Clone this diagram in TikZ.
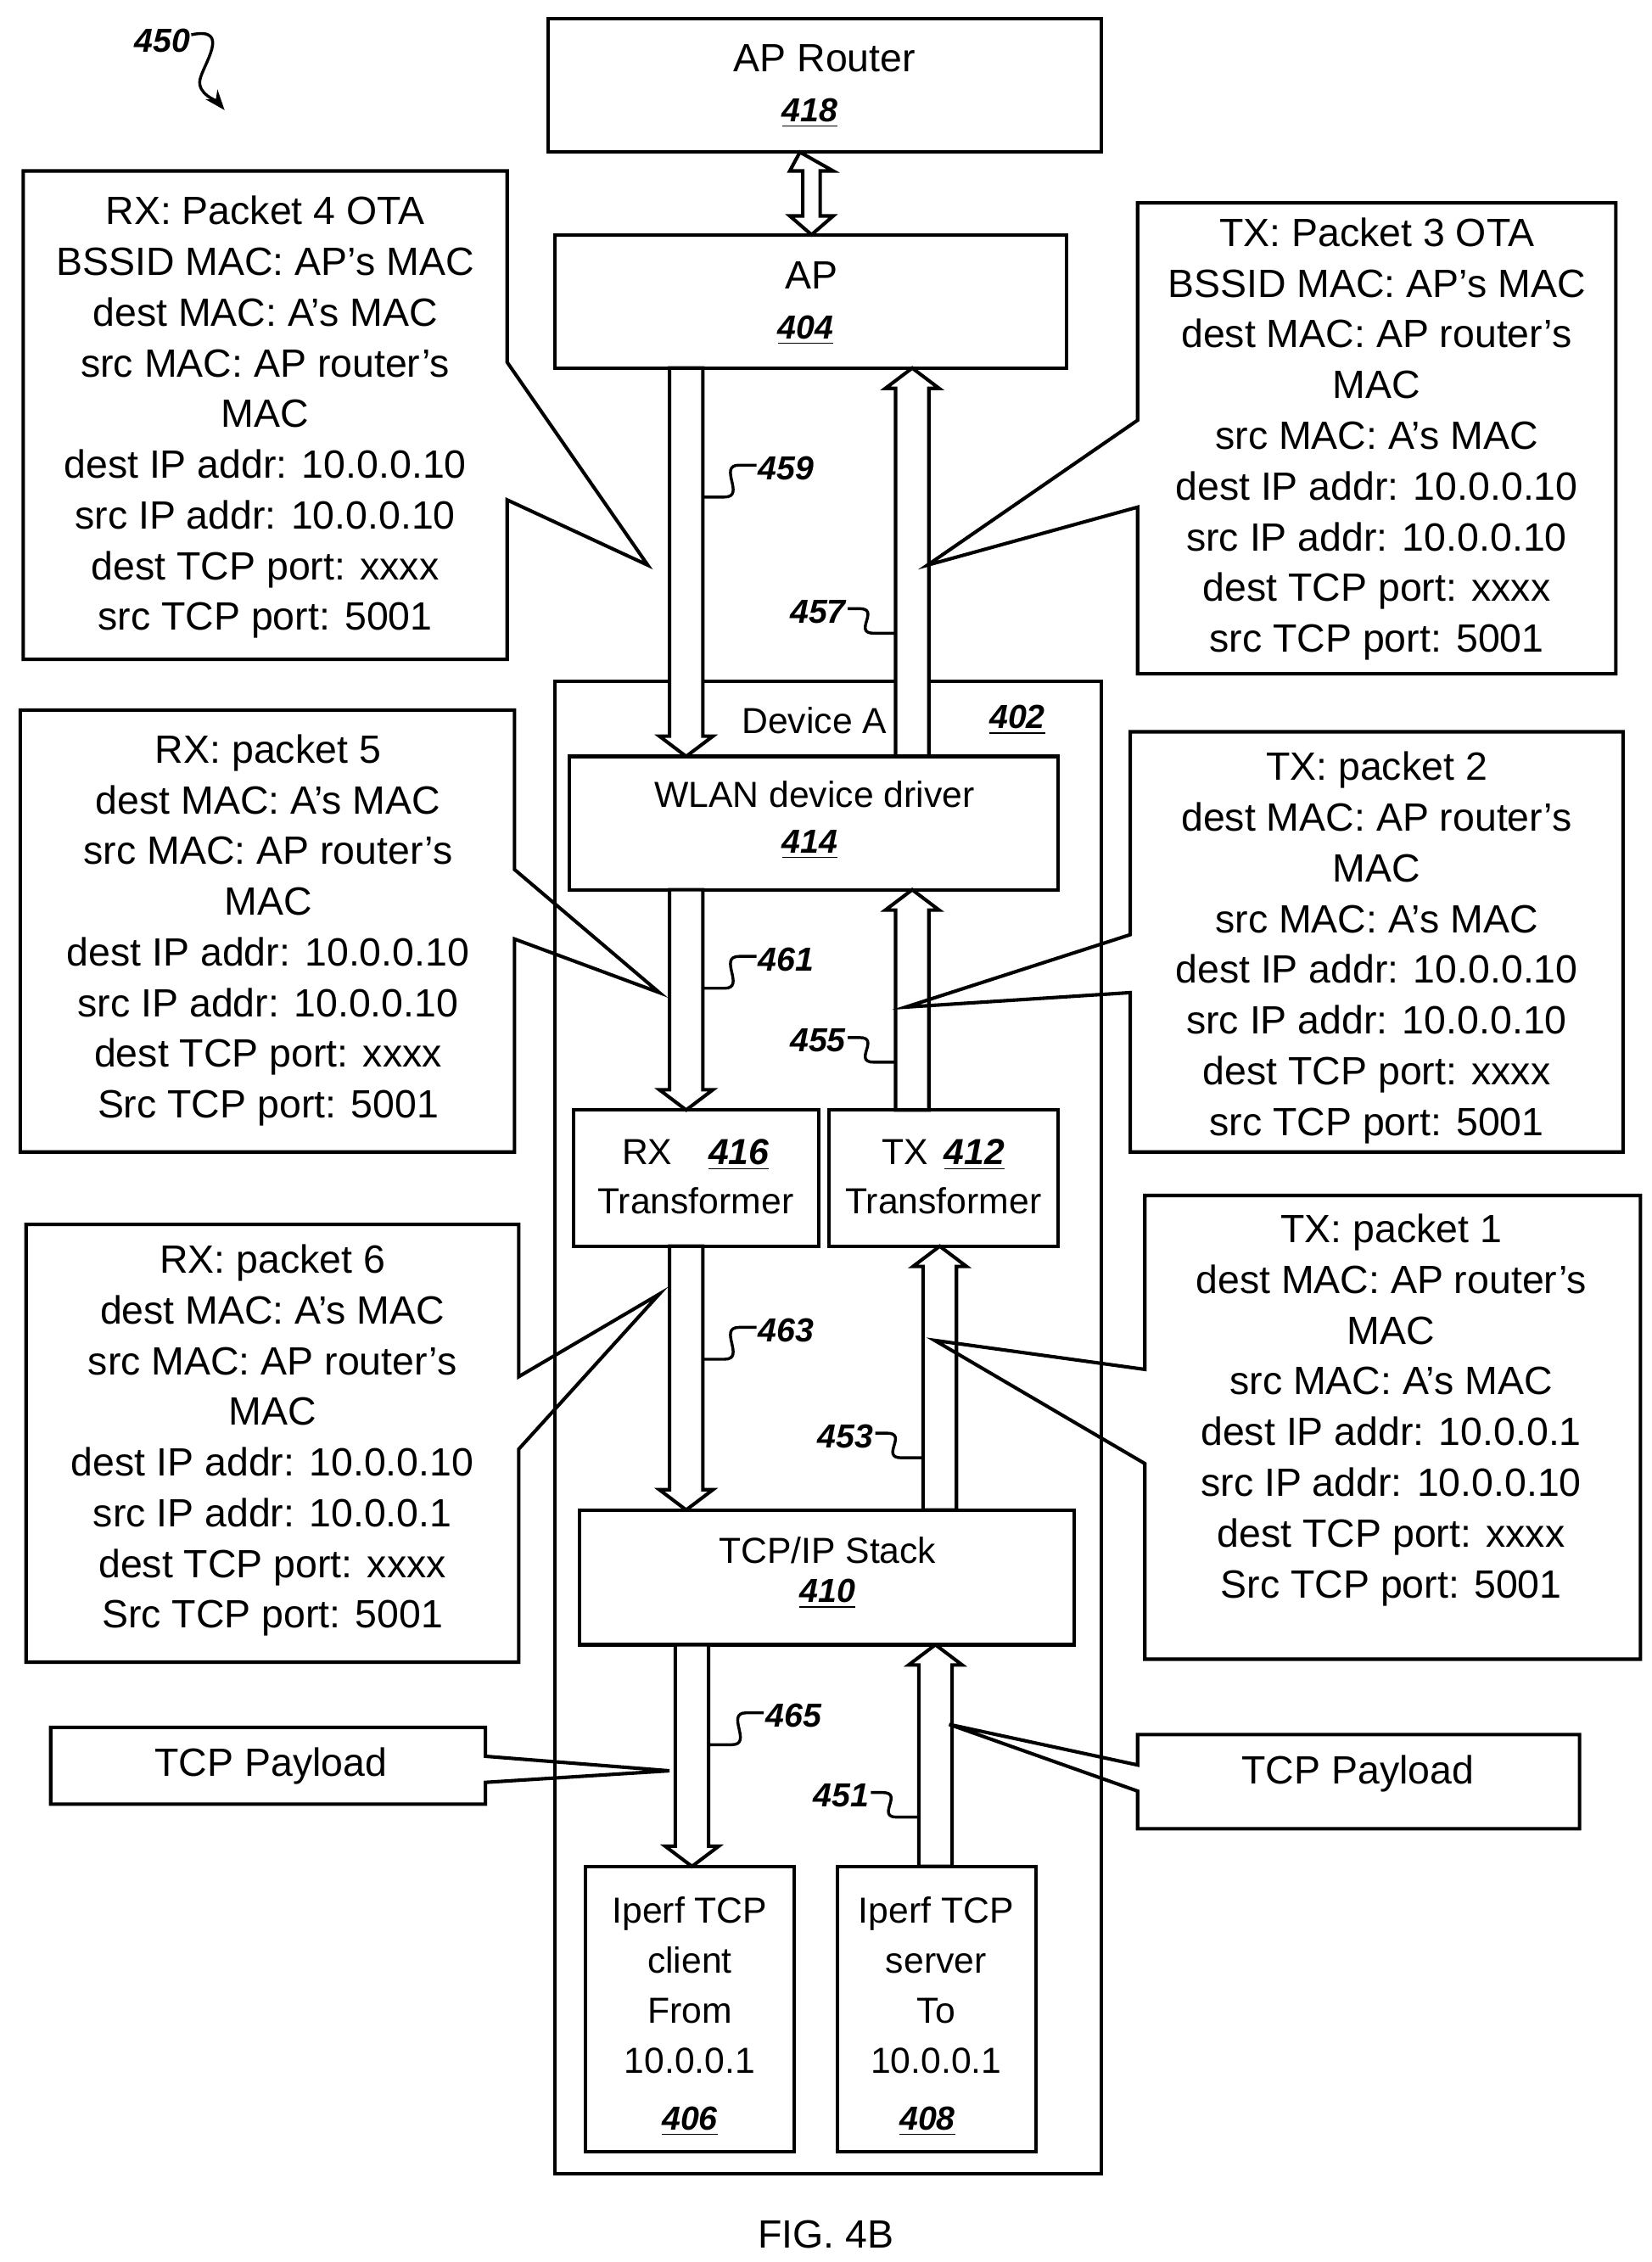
\documentclass[tikz,border=0pt]{standalone}
\usepackage{fontspec}
\setmainfont{Liberation Sans}
\usetikzlibrary{arrows.meta}
\newcommand\cbR[9]{% x1 y1 x2 y2 ya yb tx ty name
 \draw[line width=1.2pt] (#1,#2)--(#3,#2)--(#3,#5)--(#7,#8)--(#3,#6)--(#3,#4)--(#1,#4)--cycle;
 \coordinate (#9) at (#7,#8);}
\newcommand\cbL[9]{%
 \draw[line width=1.2pt] (#3,#2)--(#1,#2)--(#1,#5)--(#7,#8)--(#1,#6)--(#1,#4)--(#3,#4)--cycle;
 \coordinate (#9) at (#7,#8);}
\newcommand\dnarr[3]{% xl ytop ybot
 \draw[line width=1.2pt,fill=white] (#1,#2)--(#1+23,#2)--(#1+23,#3-14)--(#1+30,#3-14)--(#1+11.5,#3)--(#1-7,#3-14)--(#1,#3-14)--cycle;}
\newcommand\uparr[3]{% xl ytop ybot
 \draw[line width=1.2pt,fill=white] (#1,#3)--(#1+23,#3)--(#1+23,#2+14)--(#1+30,#2+14)--(#1+11.5,#2)--(#1-7,#2+14)--(#1,#2+14)--cycle;}
\newcommand\sqR[3]{% from shaft x,y to label at right
 \draw[line width=1pt] (#1,#2)--(#1+15,#2) .. controls (#1+30,#2) and (#1+10,#2-22) .. (#1+25,#2-22)--(#1+37,#2-22);
 \node[num,anchor=west] at (#1+38,#2-20) {#3};}
\newcommand\sqL[3]{% to shaft x,y from label at left
 \draw[line width=1pt] (#1,#2)--(#1-15,#2) .. controls (#1-30,#2) and (#1-10,#2-17) .. (#1-25,#2-17)--(#1-33,#2-17);
 \node[num,anchor=east] at (#1-34,#2-15) {#3};}
\begin{document}
\begin{tikzpicture}[x=0.5pt,y=-0.5pt,
 box/.style={draw,line width=1.2pt},
 txt/.style={font=\fontsize{13.6}{17.5}\selectfont,align=center,inner sep=0pt},
 stxt/.style={font=\fontsize{12.5}{17}\selectfont,align=center,inner sep=0pt},
 num/.style={font=\fontsize{11.5}{13}\selectfont\itshape\bfseries,inner sep=0pt}]
\useasboundingbox (0,0) rectangle (1140,1561);
% 450
\node[num] (n450) at (112,28) {450};
\draw[line width=1pt,-{Stealth[length=7pt]}] (132,24) .. controls (160,18) and (140,45) .. (138,55) .. controls (136,65) and (150,70) .. (155,76);
% top boxes
\draw[box] (378,13) rectangle (760,105);
\node[txt] (aprouter) at (569,40) {AP Router};
\node[num] at (559,78) {\underline{418}};
\draw[box] (383,162) rectangle (736,254);
\node[txt] (ap) at (560,190) {AP};
\node[num] at (556,228) {\underline{404}};
\draw[line width=1.2pt] (552,105)--(575,118)--(566,118)--(566,149)--(575,149)--(560,162)--(545,149)--(554,149)--(554,118)--(545,118)--cycle;
% device A
\draw[box] (383,470) rectangle (760,1500);
\node[stxt] (deva) at (562,497) {Device A};
\node[num] at (702,497) {\underline{402}};
\dnarr{462}{254}{522}
\uparr{618}{254}{522}
\sqR{485}{343}{459}
\sqL{618}{437}{457}
\draw[box,fill=white] (393,522) rectangle (730,614);
\node[stxt] (wlan) at (562,548) {WLAN device driver};
\node[num] at (559,583) {\underline{414}};
\draw[box] (396,766) rectangle (565,860);
\node[stxt] (rx) at (480,812) {RX\ \ \ \,\textit{\textbf{\underline{416}}}\\Transformer};
\draw[box] (572,766) rectangle (730,860);
\node[stxt] (tx) at (651,812) {TX\ \,\textit{\textbf{\underline{412}}}\\Transformer};
\draw[box] (400,1042) rectangle (741,1135);
\node[stxt] (tcp) at (571,1070) {TCP/IP Stack};
\node[num] at (571,1100) {\underline{410}};
\draw[box] (404,1288) rectangle (548,1485);
\node[stxt,font=\fontsize{12.5}{17.3}\selectfont] (cli) at (476,1370) {Iperf TCP\\client\\From\\10.0.0.1};
\node[num] at (476,1464) {\underline{406}};
\draw[box] (578,1288) rectangle (715,1485);
\node[stxt,font=\fontsize{12.5}{17.3}\selectfont] (srv) at (646,1370) {Iperf TCP\\server\\To\\10.0.0.1};
\node[num] at (640,1464) {\underline{408}};
\dnarr{462}{614}{766}
\uparr{618}{614}{766}
\sqR{485}{682}{461}
\sqL{618}{733}{455}
\dnarr{462}{860}{1042}
\uparr{637}{860}{1042}
\sqR{485}{938}{463}
\sqL{637}{1006}{453}
\dnarr{466}{1135}{1288}
\uparr{634}{1135}{1288}
\sqR{490}{1204}{465}
\sqL{634}{1254}{451}
% callouts
\cbR{16}{118}{350}{455}{250}{345}{447}{390}{t1}
\node[txt] (c1) at (183,288) {RX: Packet 4 OTA\\BSSID MAC: AP's MAC\\dest MAC: A's MAC\\src MAC: AP router's\\MAC\\dest IP addr: 10.0.0.10\\src IP addr: 10.0.0.10\\dest TCP port: xxxx\\src TCP port: 5001};
\cbL{785}{140}{1115}{465}{290}{350}{640}{390}{t2}
\node[txt] (c2) at (950,303) {TX: Packet 3 OTA\\BSSID MAC: AP's MAC\\dest MAC: AP router's\\MAC\\src MAC: A's MAC\\dest IP addr: 10.0.0.10\\src IP addr: 10.0.0.10\\dest TCP port: xxxx\\src TCP port: 5001};
\cbR{14}{490}{355}{795}{600}{648}{455}{685}{t3}
\node[txt] (c3) at (185,642) {RX: packet 5\\dest MAC: A's MAC\\src MAC: AP router's\\MAC\\dest IP addr: 10.0.0.10\\src IP addr: 10.0.0.10\\dest TCP port: xxxx\\Src TCP port: 5001};
\cbL{780}{505}{1120}{795}{645}{685}{625}{695}{t4}
\node[txt] (c4) at (950,654) {TX: packet 2\\dest MAC: AP router's\\MAC\\src MAC: A's MAC\\dest IP addr: 10.0.0.10\\src IP addr: 10.0.0.10\\dest TCP port: xxxx\\src TCP port: 5001};
\cbR{18}{845}{358}{1147}{950}{1000}{455}{893}{t5}
\node[txt] (c5) at (188,994) {RX: packet 6\\dest MAC: A's MAC\\src MAC: AP router's\\MAC\\dest IP addr: 10.0.0.10\\src IP addr: 10.0.0.1\\dest TCP port: xxxx\\Src TCP port: 5001};
\cbL{790}{825}{1132}{1145}{945}{1010}{645}{925}{t6}
\node[txt] (c6) at (960,973) {TX: packet 1\\dest MAC: AP router's\\MAC\\src MAC: A's MAC\\dest IP addr: 10.0.0.1\\src IP addr: 10.0.0.10\\dest TCP port: xxxx\\Src TCP port: 5001};
\cbR{35}{1192}{335}{1245}{1212}{1230}{462}{1222}{t7}
\node[txt] (p1) at (187,1219) {TCP Payload};
\cbL{785}{1197}{1090}{1262}{1218}{1236}{655}{1190}{t8}
\node[txt] (p2) at (937,1224) {TCP Payload};
\node[txt] (fig) at (570,1542) {FIG. 4B};
\end{tikzpicture}
\end{document}
